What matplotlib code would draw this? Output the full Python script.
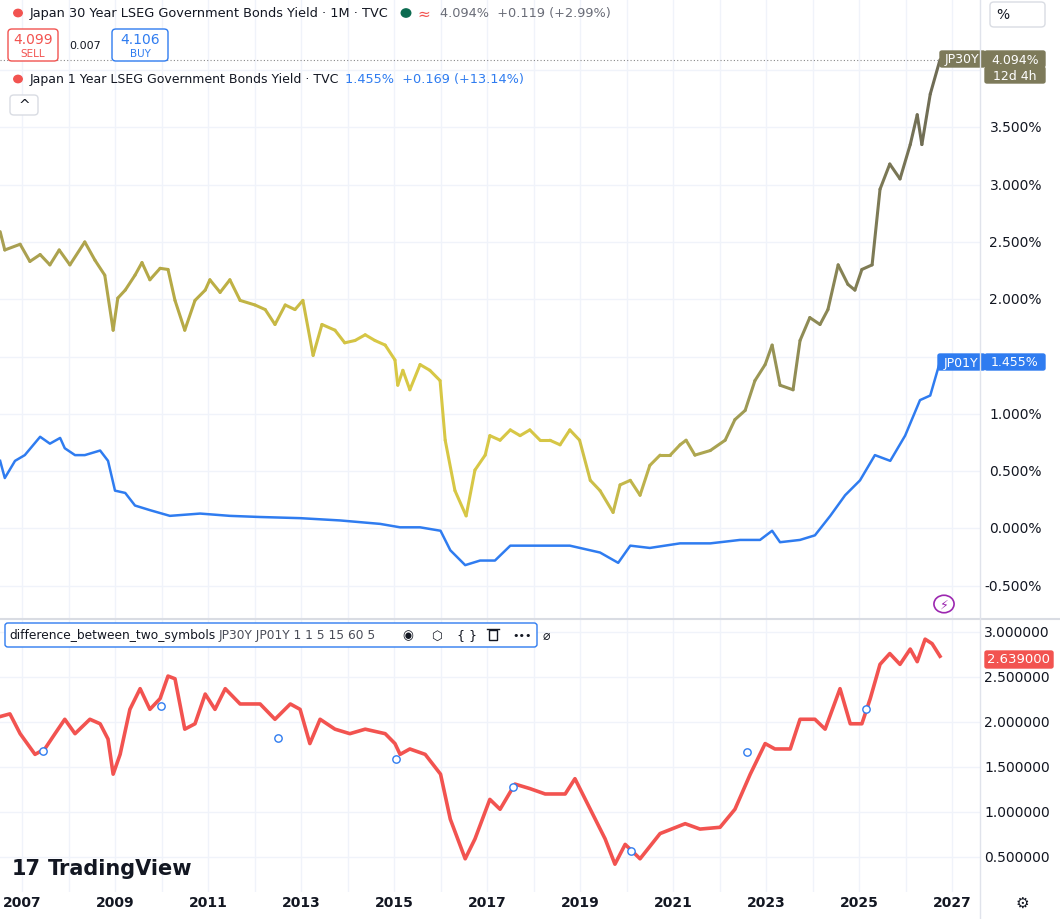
import matplotlib
matplotlib.use("Agg")
import matplotlib.pyplot as plt
import numpy as np
from matplotlib.collections import LineCollection
from matplotlib.colors import LinearSegmentedColormap
from matplotlib.patches import FancyBboxPatch, Circle, Rectangle

# ---- data (decimal years, percent) ----
jp30_t = [2006.53, 2006.63, 2006.96, 2007.17, 2007.39, 2007.6, 2007.8, 2008.03, 2008.35, 2008.57,
          2008.78, 2008.96, 2009.06, 2009.22, 2009.43, 2009.58, 2009.75, 2009.97, 2010.14, 2010.29,
          2010.5, 2010.72, 2010.94, 2011.04, 2011.26, 2011.47, 2011.69, 2012.01, 2012.23, 2012.44,
          2012.66, 2012.87, 2013.04, 2013.26, 2013.45, 2013.73, 2013.94, 2014.16, 2014.38, 2014.59,
          2014.81, 2015.02, 2015.08, 2015.19, 2015.34, 2015.56, 2015.77, 2015.99, 2016.1, 2016.31,
          2016.55, 2016.74, 2016.96, 2017.06, 2017.28, 2017.5, 2017.71, 2017.92, 2018.14, 2018.35,
          2018.57, 2018.78, 2018.99, 2019.22, 2019.43, 2019.71, 2019.86, 2020.08, 2020.29, 2020.5,
          2020.72, 2020.94, 2021.15, 2021.28, 2021.47, 2021.8, 2022.12, 2022.33, 2022.55, 2022.76,
          2022.98, 2023.13, 2023.3, 2023.58, 2023.73, 2023.94, 2024.16, 2024.33, 2024.55, 2024.76,
          2024.91, 2025.06, 2025.28, 2025.45, 2025.66, 2025.88, 2026.1, 2026.25, 2026.35, 2026.53,
          2026.74]
jp30_v = [2.59, 2.43, 2.48, 2.33, 2.39, 2.30, 2.43, 2.30, 2.50, 2.34,
          2.21, 1.73, 2.01, 2.08, 2.21, 2.32, 2.17, 2.27, 2.26, 1.99,
          1.73, 1.99, 2.08, 2.17, 2.06, 2.17, 1.99, 1.95, 1.91, 1.78,
          1.95, 1.91, 1.99, 1.51, 1.78, 1.73, 1.62, 1.64, 1.69, 1.64,
          1.60, 1.47, 1.25, 1.38, 1.21, 1.43, 1.38, 1.29, 0.77, 0.33,
          0.11, 0.51, 0.64, 0.81, 0.77, 0.86, 0.81, 0.86, 0.77, 0.77,
          0.73, 0.86, 0.77, 0.42, 0.33, 0.14, 0.38, 0.42, 0.29, 0.55,
          0.64, 0.64, 0.73, 0.77, 0.64, 0.68, 0.77, 0.95, 1.03, 1.29,
          1.43, 1.60, 1.25, 1.21, 1.64, 1.84, 1.78, 1.91, 2.30, 2.13,
          2.08, 2.26, 2.30, 2.96, 3.18, 3.05, 3.35, 3.61, 3.35, 3.79,
          4.09]

jp01_t = [2006.53, 2006.63, 2006.85, 2007.06, 2007.39, 2007.6, 2007.82, 2007.92, 2008.14, 2008.35,
          2008.68, 2008.85, 2009.0, 2009.22, 2009.43, 2009.75, 2010.18, 2010.83, 2011.47, 2012.12,
          2012.98, 2013.84, 2014.7, 2015.13, 2015.56, 2016.0, 2016.21, 2016.53, 2016.85, 2017.17,
          2017.5, 2018.14, 2018.78, 2019.43, 2019.82, 2020.08, 2020.5, 2021.15, 2021.8, 2022.44,
          2022.87, 2023.13, 2023.3, 2023.73, 2024.05, 2024.38, 2024.7, 2025.02, 2025.34, 2025.67,
          2025.99, 2026.31, 2026.53, 2026.74]
jp01_v = [0.59, 0.44, 0.59, 0.64, 0.80, 0.74, 0.79, 0.70, 0.64, 0.64,
          0.68, 0.59, 0.33, 0.31, 0.20, 0.16, 0.11, 0.13, 0.11, 0.10,
          0.09, 0.07, 0.04, 0.01, 0.01, -0.02, -0.19, -0.32, -0.28, -0.28,
          -0.15, -0.15, -0.15, -0.21, -0.30, -0.15, -0.17, -0.13, -0.13, -0.10,
          -0.10, -0.02, -0.12, -0.10, -0.06, 0.11, 0.29, 0.42, 0.64, 0.59,
          0.81, 1.12, 1.16, 1.455]

diff_t = [2006.53, 2006.74, 2006.96, 2007.28, 2007.49, 2007.71, 2007.92, 2008.14, 2008.46, 2008.68,
          2008.85, 2008.96, 2009.11, 2009.32, 2009.54, 2009.75, 2009.97, 2010.14, 2010.29, 2010.5,
          2010.72, 2010.94, 2011.15, 2011.37, 2011.69, 2012.12, 2012.44, 2012.77, 2012.98, 2013.19,
          2013.41, 2013.73, 2014.05, 2014.38, 2014.81, 2015.02, 2015.13, 2015.34, 2015.67, 2016.0,
          2016.21, 2016.53, 2016.74, 2017.06, 2017.28, 2017.6, 2017.92, 2018.25, 2018.68, 2018.89,
          2019.22, 2019.54, 2019.75, 2019.97, 2020.29, 2020.72, 2021.26, 2021.58, 2022.01, 2022.33,
          2022.66, 2022.98, 2023.19, 2023.52, 2023.73, 2024.05, 2024.27, 2024.59, 2024.81, 2025.06,
          2025.24, 2025.45, 2025.66, 2025.88, 2026.1, 2026.25, 2026.42, 2026.57, 2026.74]
diff_v = [2.06, 2.09, 1.87, 1.64, 1.70, 1.87, 2.03, 1.87, 2.03, 1.98,
          1.81, 1.42, 1.64, 2.14, 2.37, 2.14, 2.26, 2.51, 2.48, 1.92,
          1.98, 2.31, 2.14, 2.37, 2.20, 2.20, 2.03, 2.20, 2.14, 1.76,
          2.03, 1.92, 1.87, 1.92, 1.87, 1.76, 1.64, 1.70, 1.64, 1.42,
          0.92, 0.48, 0.70, 1.14, 1.03, 1.31, 1.26, 1.20, 1.20, 1.37,
          1.03, 0.70, 0.42, 0.64, 0.48, 0.76, 0.87, 0.81, 0.83, 1.03,
          1.42, 1.76, 1.70, 1.70, 2.03, 2.03, 1.92, 2.37, 1.98, 1.98,
          2.26, 2.64, 2.76, 2.64, 2.81, 2.67, 2.92, 2.87, 2.73]

marker_t = [2007.45, 2009.99, 2012.5, 2015.04, 2017.56, 2020.1, 2022.6, 2025.15]
marker_v = [1.68, 2.18, 1.82, 1.59, 1.28, 0.57, 1.67, 2.14]

top_ticks = [-0.5, 0.0, 0.5, 1.0, 1.5, 2.0, 2.5, 3.0, 3.5, 4.0]
bottom_ticks = [0.5, 1.0, 1.5, 2.0, 2.5, 3.0]
year_ticks = list(range(2007, 2028, 2))

GRID = "#f0f3fa"
BLUE = "#2f7cf0"
RED = "#f25350"
TXT = "#131722"

fig = plt.figure(figsize=(10.6, 9.2), dpi=100)
ax1 = fig.add_axes([0, 1 - 620 / 920, 980 / 1060, 620 / 920])
ax2 = fig.add_axes([0, 1 - 893 / 920, 980 / 1060, 273 / 920])
xlim = (2006.527, 2027.60)

for ax in (ax1, ax2):
    ax.set_xlim(*xlim)
    ax.set_xticks(np.arange(2007, 2028, 1))
    ax.grid(True, color=GRID, linewidth=1)
    ax.tick_params(length=0, labelbottom=False, labelleft=False)
    for s in ax.spines.values():
        s.set_visible(False)
    ax.set_axisbelow(True)

ax1.set_ylim(-0.79, 4.62)
ax1.set_yticks(top_ticks)
ax2.set_ylim(0.111, 3.144)
ax2.set_yticks(bottom_ticks)
fig.add_artist(plt.Line2D([0, 1], [1 - 620 / 920] * 2, color="#d9dce3", lw=1.5))
fig.add_artist(plt.Line2D([980 / 1060] * 2, [0, 1], color="#e0e3eb", lw=1))

# 30Y line with gradient along time
t30 = np.array(jp30_t)
v30 = np.array(jp30_v)
pts = np.column_stack([t30, v30]).reshape(-1, 1, 2)
segs = np.concatenate([pts[:-1], pts[1:]], axis=1)
cmap = LinearSegmentedColormap.from_list(
    "g", ["#a89f52", "#b8ab45", "#d8c845", "#d6c646", "#9e9a55", "#6f6c55"])
lc = LineCollection(segs, cmap=cmap, linewidth=2.2, capstyle="round", joinstyle="round")
lc.set_array((t30[:-1] - t30[0]) / (t30[-1] - t30[0]))
ax1.add_collection(lc)
ax1.plot(jp01_t, jp01_v, color=BLUE, lw=1.8)
ax1.axhline(jp30_v[-1], color="#888", lw=0.8, ls=(0, (1, 2)))

ax2.plot(diff_t, diff_v, color=RED, lw=2.6)
ax2.scatter(marker_t, marker_v, s=28, facecolor="white", edgecolor=BLUE, lw=1, zorder=3)

# right axis labels
for v in top_ticks:
    if v in (1.5, 4.0):
        continue
    ax1.text(1042 / 980, v, f"{v:.3f}%", transform=ax1.get_yaxis_transform(),
             ha="right", va="center", fontsize=10, color=TXT, clip_on=False, weight="medium")
for v in bottom_ticks:
    ax2.text(1050 / 980, v, f"{v:.6f}", transform=ax2.get_yaxis_transform(),
             ha="right", va="center", fontsize=10, color=TXT, clip_on=False)
for y in year_ticks:
    fig.text((22 + (y - 2007) * 46.5) / 1060, 1 - 903 / 920, str(y), ha="center",
             va="center", fontsize=10, weight="bold", color=TXT)


def box(x0, y0, w, h, fc, ec=None, r=2, lw=1):
    fig.add_artist(FancyBboxPatch((x0 / 1060, 1 - (y0 + h) / 920), w / 1060, h / 920,
                                  boxstyle=f"round,pad=0,rounding_size={r / 1060}",
                                  fc=fc, ec=ec or fc, lw=lw, transform=fig.transFigure))


def ftext(x, y, s, **kw):
    fig.text(x / 1060, 1 - y / 920, s, va="center", **kw)


# price labels
box(940, 52, 45, 16, "#7d7a5a")
ftext(962, 60, "JP30Y", ha="center", fontsize=9, color="white")
box(985, 52, 60, 16, "#7d7a5a")
ftext(1015, 60, "4.094%", ha="center", fontsize=9, color="white")
box(985, 68, 60, 16, "#7d7a5a")
ftext(1015, 76, "12d 4h", ha="center", fontsize=9, color="white")
box(938, 355, 47, 16, BLUE)
ftext(961, 363, "JP01Y", ha="center", fontsize=9, color="white")
box(985, 355, 60, 16, BLUE)
ftext(1015, 363, "1.455%", ha="center", fontsize=9, color="white")
box(985, 652, 68, 17, RED)
ftext(1019, 660, "2.639000", ha="center", fontsize=9.5, color="white")

# header legend
fig.add_artist(Circle((18 / 1060, 1 - 14 / 920), 0.004, color=RED, transform=fig.transFigure))
ftext(30, 14, "Japan 30 Year LSEG Government Bonds Yield · 1M · TVC", fontsize=9.3, color=TXT)
fig.add_artist(Circle((406 / 1060, 1 - 14 / 920), 0.0045, color="#0b6b50", transform=fig.transFigure))
ftext(417, 14, "≈", fontsize=11, color=RED)
ftext(440, 14, "4.094%  +0.119 (+2.99%)", fontsize=9.3, color="#6a6d78")
box(990, 3, 55, 25, "white", "#d9dce3", r=4)
ftext(996, 15, "%", fontsize=10, color=TXT)
box(8, 30, 50, 32, "white", RED, r=4)
ftext(33, 40, "4.099", ha="center", fontsize=10, color=RED)
ftext(33, 54, "SELL", ha="center", fontsize=7.5, color=RED)
ftext(85, 46, "0.007", ha="center", fontsize=8, color=TXT)
box(112, 30, 56, 32, "white", BLUE, r=4)
ftext(140, 40, "4.106", ha="center", fontsize=10, color=BLUE)
ftext(140, 54, "BUY", ha="center", fontsize=7.5, color=BLUE)
fig.add_artist(Circle((18 / 1060, 1 - 80 / 920), 0.004, color=RED, transform=fig.transFigure))
ftext(30, 80, "Japan 1 Year LSEG Government Bonds Yield · TVC", fontsize=9.0, color=TXT)
ftext(345, 80, "1.455%  +0.169 (+13.14%)", fontsize=9.3, color=BLUE)
box(10, 96, 28, 20, "white", "#d9dce3", r=4)
ftext(24, 106, "^", ha="center", fontsize=10, color=TXT)

# indicator legend
box(5, 624, 532, 24, "white", BLUE, r=3)
ftext(9, 636, "difference_between_two_symbols", fontsize=8.8, color=TXT)
ftext(219, 636, "JP30Y JP01Y 1 1 5 15 60 5", fontsize=8.8, color="#4a4d58")
ftext(402, 636, "◉", fontsize=9, color=TXT)
ftext(431, 636, "⬡", fontsize=9, color=TXT)
ftext(457, 636, "{ }", fontsize=9, color=TXT)
# trash-can icon as a shape
fig.add_artist(Rectangle((489 / 1060, 1 - 641 / 920), 8 / 1060, 10 / 920, fc="none",
                         ec=TXT, lw=1, transform=fig.transFigure))
fig.add_artist(plt.Line2D([487 / 1060, 499 / 1060], [1 - 630 / 920] * 2, color=TXT, lw=1))
ftext(512, 636, "•••", fontsize=8, color=TXT)
ftext(543, 636, "⌀", fontsize=9, color=TXT)

fig.add_artist(Circle((944 / 1060, 1 - 605 / 920), 0.0095, fc="white", ec="#9c27b0",
                      lw=1.2, transform=fig.transFigure))
ftext(944, 605, "⚡", ha="center", fontsize=9, color="#9c27b0")

ftext(12, 869, "17", fontsize=15, weight="bold", color=TXT)
ftext(48, 869, "TradingView", fontsize=15, weight="bold", color=TXT)
ftext(1022, 903, "⚙", ha="center", fontsize=11, color=TXT)

fig.savefig("out.png", dpi=100)
